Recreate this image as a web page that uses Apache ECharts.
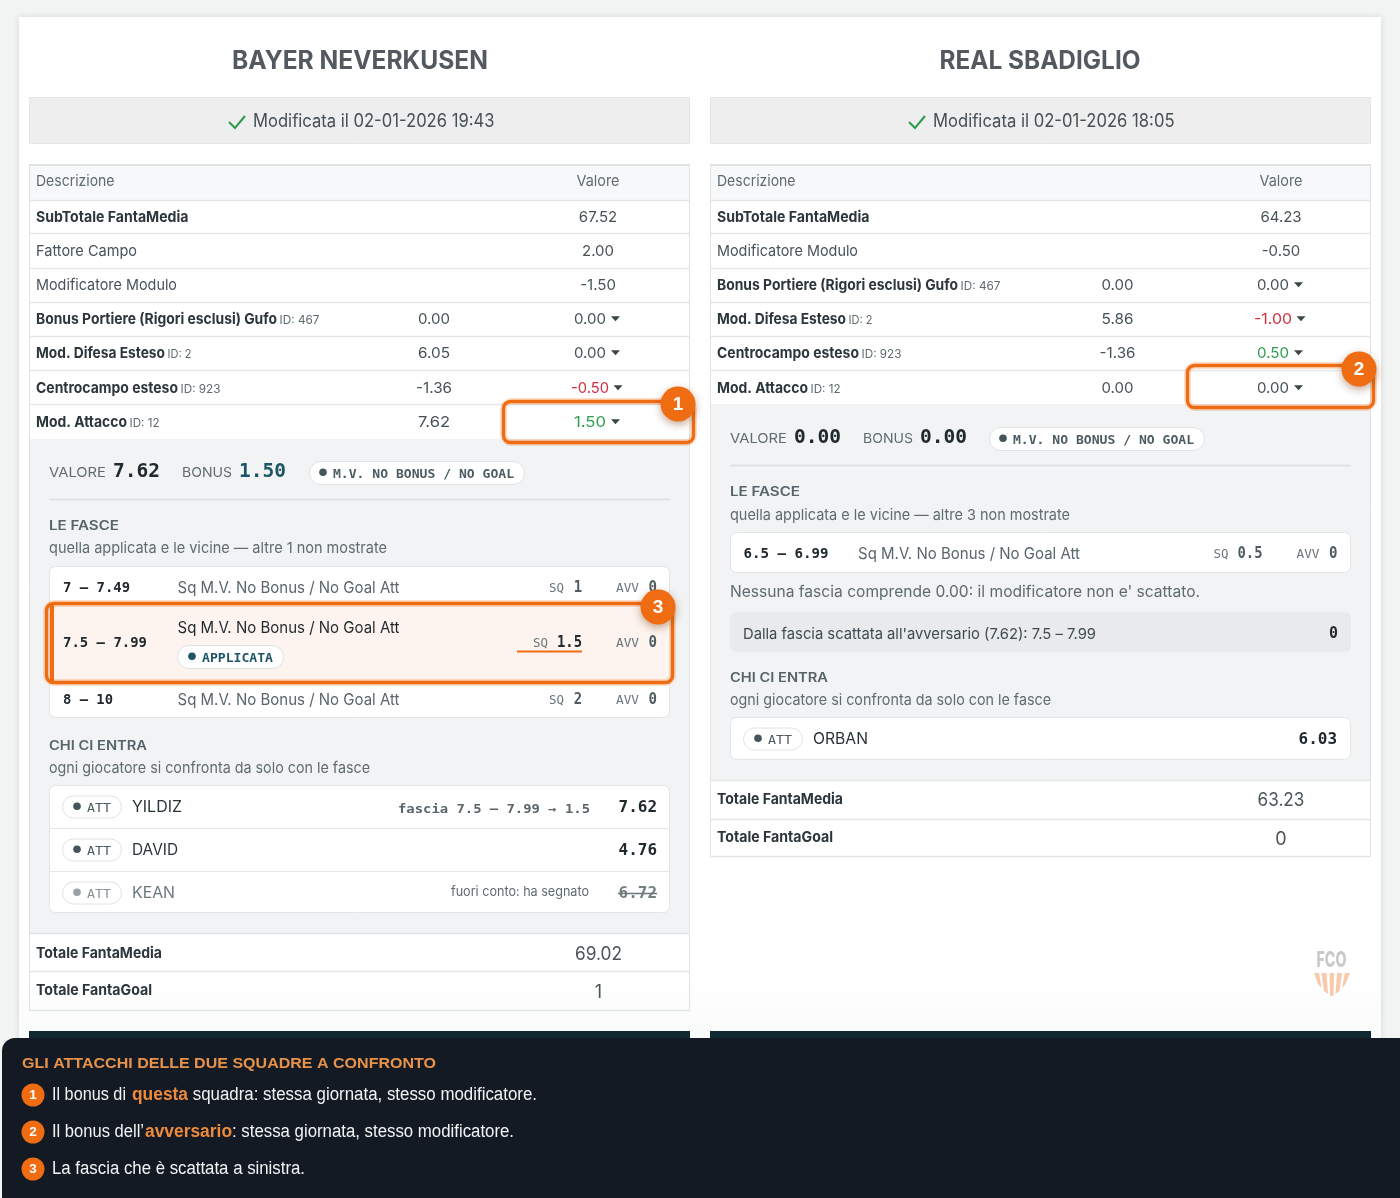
<!DOCTYPE html>
<html><head><meta charset="utf-8">
<style>html,body{margin:0;padding:0;background:#f2f4f4}#c{width:1400px;height:1198px}</style>
<script src="https://cdn.jsdelivr.net/npm/echarts@6/dist/echarts.min.js"></script>
</head><body><div id="c"></div>
<script>
// ---------- content ----------
const teamNames = ['BAYER NEVERKUSEN', 'REAL SBADIGLIO'];
const statusTexts = ['Modificata il 02-01-2026 19:43', 'Modificata il 02-01-2026 18:05'];
const tableHeader = ['Descrizione', 'Valore'];
// label, id, middle value, value, tone
const rowsLeft = [
  ['SubTotale FantaMedia', '', '', '67.52', 'b'],
  ['Fattore Campo', '', '', '2.00', 'n'],
  ['Modificatore Modulo', '', '', '-1.50', 'n'],
  ['Bonus Portiere (Rigori esclusi) Gufo', 'ID: 467', '0.00', '0.00', ''],
  ['Mod. Difesa Esteso', 'ID: 2', '6.05', '0.00', ''],
  ['Centrocampo esteso', 'ID: 923', '-1.36', '-0.50', 'red'],
  ['Mod. Attacco', 'ID: 12', '7.62', '1.50', 'green']
];
const rowsRight = [
  ['SubTotale FantaMedia', '', '', '64.23', 'b'],
  ['Modificatore Modulo', '', '', '-0.50', 'n'],
  ['Bonus Portiere (Rigori esclusi) Gufo', 'ID: 467', '0.00', '0.00', ''],
  ['Mod. Difesa Esteso', 'ID: 2', '5.86', '-1.00', 'red'],
  ['Centrocampo esteso', 'ID: 923', '-1.36', '0.50', 'green'],
  ['Mod. Attacco', 'ID: 12', '0.00', '0.00', '']
];
const totalsLabels = ['Totale FantaMedia', 'Totale FantaGoal'];
const totalsLeft = ['69.02', '1'];
const totalsRight = ['63.23', '0'];
const summaryLeft = ['VALORE', '7.62', 'BONUS', '1.50', 'M.V. NO BONUS / NO GOAL'];
const summaryRight = ['VALORE', '0.00', 'BONUS', '0.00', 'M.V. NO BONUS / NO GOAL'];
const sectionTitles = ['LE FASCE', 'CHI CI ENTRA'];
const fasceSubLeft = 'quella applicata e le vicine — altre 1 non mostrate';
const fasceSubRight = 'quella applicata e le vicine — altre 3 non mostrate';
const chiSub = 'ogni giocatore si confronta da solo con le fasce';
const fasciaLabel = 'Sq M.V. No Bonus / No Goal Att';
const fasceLeft = [['7 – 7.49', '1', '0'], ['7.5 – 7.99', '1.5', '0'], ['8 – 10', '2', '0']];
const fasceRight = [['6.5 – 6.99', '0.5', '0']];
const appliedTag = 'APPLICATA';
const playersLeft = [
  ['ATT', 'YILDIZ', 'fascia 7.5 – 7.99 → 1.5', '7.62'],
  ['ATT', 'DAVID', '', '4.76'],
  ['ATT', 'KEAN', 'fuori conto: ha segnato', '6.72']
];
const playersRight = [['ATT', 'ORBAN', '', '6.03']];
const noFasciaNote = "Nessuna fascia comprende 0.00: il modificatore non e' scattato.";
const opponentNote = ["Dalla fascia scattata all'avversario (7.62): 7.5 – 7.99", '0'];
const logoText = 'FCO';
const legendTitle = 'GLI ATTACCHI DELLE DUE SQUADRE A CONFRONTO';
const legendLines = [
  ['1', 'Il bonus di ', 'questa', ' squadra: stessa giornata, stesso modificatore.'],
  ['2', 'Il bonus dell’', 'avversario', ': stessa giornata, stesso modificatore.'],
  ['3', 'La fascia che è scattata a sinistra.', '', '']
];

// ---------- drawing helpers ----------
const SANS = 'Inter', MONO = '"DejaVu Sans Mono"', LEG = '"Liberation Sans"';
const C = {ink:'#3f4b51', dark:'#2c363b', soft:'#5f6b70', faint:'#8b9498', line:'#e4e7e8', line2:'#dfe3e4',
  panel:'#f1f3f4', or:'#ef6c13', teal:'#1d5566', red:'#cf2e3e', green:'#2f9d50'};
const E = [];
const mctx = document.createElement('canvas').getContext('2d');
function fontStr(o){ return (o.w8||'normal')+' '+o.s+'px '+(o.f||SANS); }
function T(x, y, text, o){
  o = o || {};
  const font = fontStr(o);
  const dy = (o.f===MONO||o.f===LEG) ? 1 : 0.6;
  const el = {type:'text', x:x, y:y+dy, silent:true, style:{text:text, font:font, fill:o.c||C.ink, align:o.a||'left', verticalAlign:'middle', opacity:o.op==null?1:o.op}};
  if (o.tw){ mctx.font = font; el.scaleX = o.tw / mctx.measureText(text).width; }
  E.push(el);
}
function R(x, y, w, h, fill, o){
  o = o || {};
  E.push({type:'rect', silent:true, shape:{x:x, y:y, width:w, height:h, r:o.r||0},
    style:{fill:fill, stroke:o.st||null, lineWidth:o.lw||1, shadowBlur:o.sb||0, shadowColor:o.sc||'transparent', shadowOffsetX:o.sx||0, shadowOffsetY:o.sy||0}});
}
function L(x1, y1, x2, y2, c, lw){ E.push({type:'line', silent:true, shape:{x1:x1,y1:y1,x2:x2,y2:y2}, style:{stroke:c, lineWidth:lw||1}}); }
function D(x, y, r, fill, o){ o=o||{}; E.push({type:'circle', silent:true, shape:{cx:x,cy:y,r:r}, style:{fill:fill, shadowBlur:o.sb||0, shadowColor:o.sc||'transparent', shadowOffsetY:o.sy||0}}); }
function P(points, fill){ E.push({type:'polygon', silent:true, shape:{points:points}, style:{fill:fill}}); }

function caret(x, y){ P([[x-4.5,y-2.5],[x+4.5,y-2.5],[x,y+2.5]], '#3a4549'); }
function pill(x, y, w, h, text, o){
  o = o||{};
  R(x+.5, y+.5, w-1, h-1, '#fff', {r:h/2, st:'#dfe3e4'});
  D(x+(o.dx||14), y+h/2-.8, 3.8, o.dot||'#45555c');
  T(x+(o.tx||24), y+h/2+1.5, text, {s:o.s||11.5, f:MONO, w8:o.w8||'bold', c:o.c||'#4d5c62', tw:o.tw, op:o.op});
}
function head(x, y, text, tw){ T(x, y, text, {s:12.5, w8:'600', c:'#56646a', tw:tw}); }

function column(cfg){
  const x0 = cfg.x0, x1 = x0 + 661;
  T(cfg.titleC, 60.4, cfg.name, {s:25, w8:'bold', c:'#53595f', a:'center', tw:cfg.titleW});
  R(x0+.5, 97.5, 660, 46, '#eeeeee', {st:'#e5e5e5'});
  E.push({type:'polyline', silent:true, shape:{points:[[cfg.chk,122],[cfg.chk+6,128],[cfg.chk+16,116]]}, style:{stroke:'#2d9a4c', lineWidth:2, fill:null}});
  T(cfg.chk+24, 120.5, cfg.status, {s:18, c:'#454f55', tw:241.5});
  const rowY = cfg.rowY, sep = cfg.sep;
  R(x0, 166, 661, 34, '#f7f8fa');
  L(x0, 165, x1, 165, C.line2, 2);
  L(x0+.5, 165, x0+.5, cfg.end, C.line2, 1);
  L(x1-.5, 165, x1-.5, cfg.end, C.line2, 1);
  T(x0+7, 181.3, tableHeader[0], {s:15, c:C.soft, tw:78.5});
  T(cfg.valC, 181.3, tableHeader[1], {s:15, c:C.soft, a:'center', tw:43});
  sep.forEach(y => L(x0, y+.5, x1, y+.5, C.line, 1.5));
  cfg.rows.forEach((r, i) => {
    const y = rowY[i], bold = r[4]==='b' || r[1] || (r[2]!=='' );
    const W = cfg.lw[r[0]];
    T(x0+7, y, r[0], {s:15, w8: bold?'bold':'normal', c: bold?C.dark:'#47535a', tw:W});
    if (r[1]) T(x0+7+W+2.5, y+.5, r[1], {s:12, c:C.soft, tw:cfg.idw[r[1]]});
    if (r[2]) T(cfg.midC, y, r[2], {s:15, c:'#475257', a:'center', tw:r[2].length>4?36:32});
    if (r[4]==='b'||r[4]==='n') T(cfg.valC, y, r[3], {s:15, c:'#475257', a:'center'});
    else {
      const col = r[4]==='red'?C.red:r[4]==='green'?C.green:'#475257';
      const cx = cfg.valC-8;
      T(cx, y, r[3], {s:15, c:col, a:'center', tw:r[3].length>4?38:32});
      caret(cx + (r[3].length>4?28:25.5), y-.3);
    }
  });
  R(x0+1, cfg.panelTop, 659, cfg.panelBot-cfg.panelTop, C.panel);
  const px = x0+20, s = cfg.sum, sy = cfg.sumY;
  T(px, sy, s[0], {s:13.5, c:'#5f6b70', tw:57});
  T(px+64, sy-1.5, s[1], {s:20, f:MONO, w8:'bold', c:'#20292e', tw:47});
  T(px+133, sy, s[2], {s:13.5, c:'#5f6b70', tw:50});
  T(px+190, sy-1.5, s[3], {s:20, f:MONO, w8:'bold', c:cfg.bonusC, tw:47});
  pill(px+cfg.pillDx, sy-11, 216, 24, s[4], {tx:24, dx:14, s:11.5, tw:181});
  L(px, cfg.divY, px+621, cfg.divY, '#dcdfe0', 1.5);
}

// ---------- page ----------
R(19, 17, 1362, 1100, '#ffffff', {sb:6, sc:'rgba(0,0,0,0.12)'});
E.push({type:'rect', silent:true, shape:{x:19,y:980,width:1362,height:60}, style:{fill:{type:'linear',x:0,y:0,x2:0,y2:1,colorStops:[{offset:0,color:'#ffffff'},{offset:1,color:'#f9fafa'}]}}});

const labelW = {'SubTotale FantaMedia':152.5,'Fattore Campo':101,'Modificatore Modulo':141,'Bonus Portiere (Rigori esclusi) Gufo':241,'Mod. Difesa Esteso':129,'Centrocampo esteso':142,'Mod. Attacco':91};
const idW = {'ID: 467':40,'ID: 2':24,'ID: 923':40,'ID: 12':30};

column({x0:29, titleC:360, titleW:256, name:teamNames[0], status:statusTexts[0], chk:229, valC:598, midC:434,
  rows:rowsLeft, rowY:[217,251,285,319,353,388,422], sep:[200,233,268,302,336,370,404], lw:labelW, idw:idW,
  panelTop:439, panelBot:933, end:1010, sum:summaryLeft, sumY:472, bonusC:C.teal, pillDx:260, divY:499.5});
column({x0:710, titleC:1040, titleW:201, name:teamNames[1], status:statusTexts[1], chk:909, valC:1281, midC:1117.5,
  rows:rowsRight, rowY:[217,251,285,319,353,388], sep:[200,233,268,302,336,370], lw:labelW, idw:idW,
  panelTop:404, panelBot:780, end:856, sum:summaryRight, sumY:438, bonusC:'#20292e', pillDx:259, divY:465.5});

function fasciaRow(b, f, y, o){
  o = o||{};
  const rc = o.hi ? '#1f282c' : '#5a666b';
  T(b, y, f[0], {s:14.5, f:MONO, w8:'bold', c:'#20292e', tw:o.rw});
  T(b+114.5, o.ly||y+.5, fasciaLabel, {s:16, c:rc, tw:222});
  T(b+(o.sqX||486), y+1, 'SQ', {s:11.5, f:MONO, c:'#6a767b', tw:15});
  T(b+519, y, f[1], {s:15, f:MONO, w8:'bold', c:o.hi?'#20292e':'#4f5b60', a:'right', tw:f[1].length*8.33});
  T(b+553, y+1, 'AVV', {s:11.5, f:MONO, c:'#6a767b', tw:23});
  T(b+594, y, f[2], {s:15, f:MONO, w8:'bold', c:'#4f5b60', a:'right', tw:8.5});
}
head(49, 525.5, sectionTitles[0], 70);
T(49, 548, fasceSubLeft, {s:15, c:C.soft, tw:338});
R(49.5, 566.5, 620, 151, '#fff', {r:6, st:'#e2e5e6'});
fasciaRow(63, fasceLeft[0], 587, {rw:67});
fasciaRow(63, fasceLeft[2], 699, {rw:50});
R(50, 605, 620, 76, '#fdf3ef');
R(50, 605, 4, 76, C.or);
fasciaRow(63, fasceLeft[1], 642.5, {rw:84, hi:true, ly:627.5, sqX:470});
L(517, 651.5, 582, 651.5, C.or, 2);
pill(177, 645, 107, 24, appliedTag, {dx:15, tx:25, dot:C.teal, c:C.teal, s:11.5, tw:71});

head(49, 745.5, sectionTitles[1], 98);
T(49, 768, chiSub, {s:15, c:C.soft, tw:321});
R(49.5, 785.5, 620, 127, '#fff', {r:6, st:'#e2e5e6'});
L(50, 828.5, 669, 828.5, C.line, 1); L(50, 871.5, 669, 871.5, C.line, 1);
function player(b, y, p, o){
  o = o||{};
  const fade = o.fade;
  pill(b, y-11.5, 60, 23, p[0], {dx:15, tx:25, s:11.5, tw:24, dot:fade?'#9aa2a5':'#45555c', c:fade?'#8b9498':'#4d5c62', w8:'normal'});
  T(b+70, y, p[1], {s:16, c:fade?'#6c777c':'#2a3338', tw:o.nw});
  T(o.vr, y, p[3], {s:15.5, f:MONO, w8:'bold', c:fade?'#75807f':'#20292e', a:'right', tw:38.5});
}
player(62, 807, playersLeft[0], {vr:657, nw:50});
T(398, 809, playersLeft[0][2], {s:11.5, f:MONO, w8:'bold', c:'#5a666b', tw:192});
player(62, 850, playersLeft[1], {vr:657, nw:46});
player(62, 893, playersLeft[2], {vr:657, nw:43, fade:true});
T(451, 891, playersLeft[2][2], {s:13, c:'#5f6b70', tw:138});
L(618, 893.5, 657, 893.5, '#6c777c', 1.4);

head(730, 491.5, sectionTitles[0], 70);
T(730, 515, fasceSubRight, {s:15, c:C.soft, tw:340});
R(730.5, 532.5, 620, 40, '#fff', {r:6, st:'#e2e5e6'});
fasciaRow(743.5, fasceRight[0], 553, {rw:85, sqX:470});
T(730, 592, noFasciaNote, {s:16, c:C.soft, tw:470});
R(730, 612, 621, 40, '#e8eaeb', {r:6});
T(743, 634, opponentNote[0], {s:15, c:C.ink, tw:353});
T(1338, 633, opponentNote[1], {s:15, f:MONO, w8:'bold', c:'#20292e', a:'right', tw:9});
head(730, 677.5, sectionTitles[1], 98);
T(730, 700, chiSub, {s:15, c:C.soft, tw:321});
R(730.5, 717.5, 620, 42, '#fff', {r:6, st:'#e2e5e6'});
player(743, 739, playersRight[0], {vr:1337, nw:55});

function totals(x0, vc, y, vals, sep){
  sep.forEach(s => L(x0, s+.5, x0+661, s+.5, '#e2e5e6', 1.5));
  totalsLabels.forEach((t, i) => {
    T(x0+7, y[i]-.5, t, {s:15, w8:'bold', c:C.dark, tw:i?116:126});
    T(vc, y[i]+(i?1.5:0.8), vals[i], {s:18, c:'#4a5459', a:'center', tw:i?undefined:47});
  });
}
totals(29, 598.5, [953,990], totalsLeft, [933,971,1010]);
totals(710, 1281, [799.5,837.5], totalsRight, [780,819,856]);

// logo
T(1331.5, 960, logoText, {s:21, w8:'800', c:'#c9c9c9', a:'center', tw:30});
[
  [[1314,973],[1319,973],[1321.5,988],[1318,984]],
  [[1321.5,973],[1326.5,973],[1328,994],[1324,991]],
  [[1329.5,973],[1334,973],[1333.5,996],[1330,996]],
  [[1337,973],[1342,973],[1339.5,991],[1335.5,994]],
  [[1345,973],[1350,973],[1345.5,984],[1342,988]]
].forEach(p => P(p, '#f8c9ab'));

// dark tops of the next boxes
R(29, 1031, 661, 10, '#10282f');
R(710, 1031, 661, 10, '#10282f');

// highlight boxes
function hi(x, y, w, h, n, cx, cy){
  R(x, y, w, h, 'transparent', {r:8, st:'rgba(239,108,19,0.22)', lw:7});
  R(x, y, w, h, 'transparent', {r:7, st:C.or, lw:3.4});
  D(cx, cy, 17.5, C.or, {sb:8, sc:'rgba(120,60,10,0.45)', sy:3});
  T(cx, cy, n, {s:19, w8:'bold', f:LEG, c:'#fff', a:'center'});
}
hi(503.5, 401.5, 190, 41, '1', 678, 404);
hi(1187.5, 365.5, 186, 42, '2', 1359, 369);
hi(46.5, 603.5, 626, 79, '3', 658, 607);

// legend panel
R(2, 1038, 1420, 180, '#131a23', {r:13});
T(22, 1063, legendTitle, {s:14, w8:'bold', f:LEG, c:'#e8924a', tw:414});
const legendY = [1095, 1132, 1169];
const segX = [[52,78.5,132,56,188,349],[52,92,145,87,232,282],[52,253]];
legendLines.forEach((l, i) => {
  const y = legendY[i], sx = segX[i];
  D(33, y, 11.5, C.or);
  T(33, y-.3, l[0], {s:13.5, w8:'bold', f:LEG, c:'#fff', a:'center'});
  T(sx[0], y-1, l[1], {s:18, f:LEG, c:'#f2f3f4', tw:sx[1]});
  if (l[2]) {
    T(sx[2], y-1, l[2], {s:18, w8:'bold', f:LEG, c:'#ee8a3c', tw:sx[3]});
    T(sx[4], y-1, l[3], {s:18, f:LEG, c:'#f2f3f4', tw:sx[5]});
  }
});

const chart = echarts.init(document.getElementById('c'), null, {renderer:'canvas'});
chart.setOption({animation:false, backgroundColor:'#f2f4f4', graphic:{elements:E}, series:[]});
</script></body></html>
